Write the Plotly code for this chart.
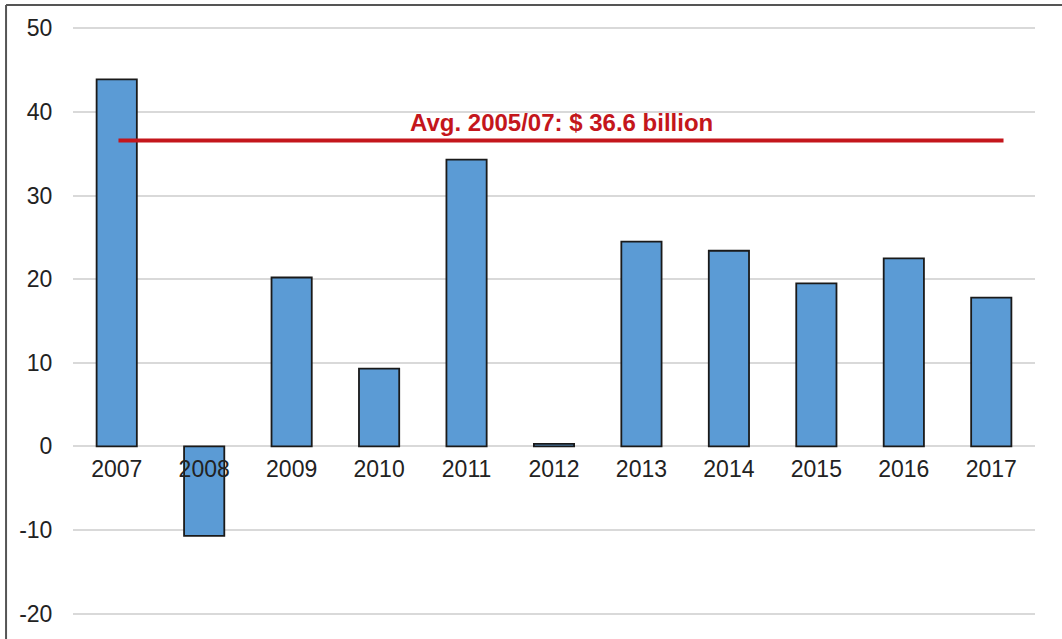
import plotly.graph_objects as go

# Annual values, USD billion
years = ["2007", "2008", "2009", "2010", "2011", "2012",
         "2013", "2014", "2015", "2016", "2017"]
values = [43.9, -10.7, 20.2, 9.3, 34.3, 0.3, 24.5, 23.4, 19.5, 22.5, 17.8]

# Reference average
avg_value = 36.6
avg_label = "Avg. 2005/07: $ 36.6 billion"

y_ticks = [-20, -10, 0, 10, 20, 30, 40, 50]
y_tick_text = ["-20", "-10", "0", "10", "20", "30", "40", "50"]

x_pos = list(range(len(years)))
y_min, y_max = -21, 51

fig = go.Figure()

fig.add_trace(go.Bar(
    x=x_pos, y=values, width=0.46,
    marker=dict(color="#5B9BD5", line=dict(color="#1a1a1a", width=1.8)),
    showlegend=False, hoverinfo="skip",
))

fig.add_trace(go.Scatter(
    x=[x_pos[0] + 0.02, x_pos[-1] + 0.14], y=[avg_value, avg_value],
    mode="lines", line=dict(color="#C4161C", width=4),
    showlegend=False, hoverinfo="skip",
))

fig.add_annotation(
    x=5.08, y=avg_value + 2.2, xref="x", yref="y",
    text=f"<b>{avg_label}</b>", showarrow=False,
    font=dict(family="Liberation Sans, Arial, sans-serif", size=24, color="#C4161C"),
)

zero_frac = (0 - y_min) / (y_max - y_min)

fig.update_layout(
    width=1062, height=639,
    margin=dict(l=73, r=27, t=20, b=17),
    paper_bgcolor="white", plot_bgcolor="white",
    font=dict(family="Liberation Sans, Arial, sans-serif", size=23, color="#222222"),
    xaxis=dict(
        range=[-0.5, len(years) - 0.5],
        tickmode="array", tickvals=x_pos, ticktext=years,
        showgrid=False, zeroline=False, showline=False,
        anchor="free", position=zero_frac,
        ticks="outside", ticklen=2, tickcolor="rgba(0,0,0,0)",
    ),
    yaxis=dict(
        range=[y_min, y_max],
        tickmode="array", tickvals=y_ticks, ticktext=y_tick_text,
        showgrid=True, gridcolor="#d9d9d9", gridwidth=2,
        zeroline=False, showline=False,
        ticks="outside", ticklen=15, tickcolor="rgba(0,0,0,0)",
    ),
    shapes=[
        dict(type="line", xref="paper", yref="paper",
             x0=-0.0696, x1=1.1, y0=1.0249, y1=1.0249,
             line=dict(color="#555555", width=2)),
        dict(type="line", xref="paper", yref="paper",
             x0=-0.0696, x1=-0.0696, y0=1.0249, y1=-0.1,
             line=dict(color="#555555", width=2)),
    ],
)

fig.write_html("out.html")
